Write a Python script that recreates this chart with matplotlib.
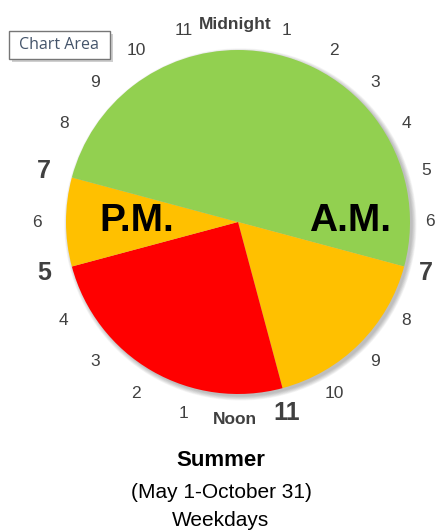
import numpy as np
import matplotlib
matplotlib.use("Agg")
import matplotlib.pyplot as plt
from matplotlib.patches import Circle, Rectangle

plt.rcParams['font.family'] = ['Liberation Sans', 'DejaVu Sans']

# rate periods, clockwise from midnight (hours)
periods = ['Off-peak', 'Mid-peak', 'On-peak', 'Mid-peak', 'Off-peak']
hours = [7, 4, 6, 2, 5]
colors = ['#92D050', '#FFC000', '#FF0000', '#FFC000', '#92D050']

# clock face labels
clock_labels = ['Midnight'] + [str(h) for h in range(1, 12)] + ['Noon'] + [str(h) for h in range(1, 12)]
big_hours = [7, 11, 17, 19]  # period boundaries
word_hours = [0, 12]

W, H = 436, 531
cx, cy, R = 238, 222, 172  # pie centre / radius in pixels

fig = plt.figure(figsize=(W / 100, H / 100), dpi=100)
ax = fig.add_axes([0, 0, 1, 1])

# soft shadow behind the pie
for i in range(7):
    ax.add_patch(Circle((0.014, -0.014), 1.0 + 0.004 * i, facecolor='black',
                        edgecolor='none', alpha=0.04, zorder=1))

wedges, _ = ax.pie(hours, colors=colors, startangle=90, counterclock=False,
                   radius=1.0, wedgeprops=dict(linewidth=0))
for w in wedges:
    w.set_zorder(2)

# hour labels round the clock
x_max = (430 - cx) / R
for h, lab in enumerate(clock_labels):
    ang = np.deg2rad(h * 15)
    r = 1.15
    x = min(r * np.sin(ang) - 3 / R, x_max)
    y = r * np.cos(ang)
    if h in word_hours:
        ax.text(x, y, lab, ha='center', va='center', fontsize=12.5,
                fontweight='bold', color='#404040')
    elif h in big_hours:
        ax.text(x, y, lab, ha='center', va='center', fontsize=18,
                fontweight='bold', color='#404040')
    else:
        ax.text(x, y, lab, ha='center', va='center', fontsize=12.5,
                color='#404040')

ax.text((137 - cx) / R, (cy - 221) / R, 'P.M.', ha='center', va='center',
        fontsize=28, fontweight='bold', color='black', zorder=5)
ax.text((350 - cx) / R, (cy - 221) / R, 'A.M.', ha='center', va='center',
        fontsize=28, fontweight='bold', color='black', zorder=5)

ax.set_xlim(-cx / R, (W - cx) / R)
ax.set_ylim(-(H - cy) / R, cy / R)
ax.set_aspect('auto')
ax.axis('off')

# titles under the clock
fig.text(221 / W, 1 - 461 / H, 'Summer', ha='center', va='center',
         fontsize=16, fontweight='bold', color='black')
fig.text(221 / W, 1 - 493 / H, '(May 1-October 31)', ha='center', va='center',
         fontsize=15, color='black')
fig.text(221 / W, 1 - 520 / H, 'Weekdays', ha='center', va='center',
         fontsize=15, color='black')

# "Chart Area" tooltip
fig.patches.append(Rectangle((12 / W, 1 - 62 / H), 101 / W, 28 / H,
                             transform=fig.transFigure, facecolor='#b0b0b0',
                             edgecolor='none', alpha=0.6, zorder=8))
fig.patches.append(Rectangle((9 / W, 1 - 59 / H), 101 / W, 28 / H,
                             transform=fig.transFigure, facecolor='white',
                             edgecolor='#767676', linewidth=1, zorder=9))
fig.text(59 / W, 1 - 45 / H, 'Chart Area', ha='center', va='center',
         fontsize=11.5, color='#44546A', zorder=10,
         family=['Open Sans', 'DejaVu Sans'])

fig.savefig('out.png', dpi=100)
